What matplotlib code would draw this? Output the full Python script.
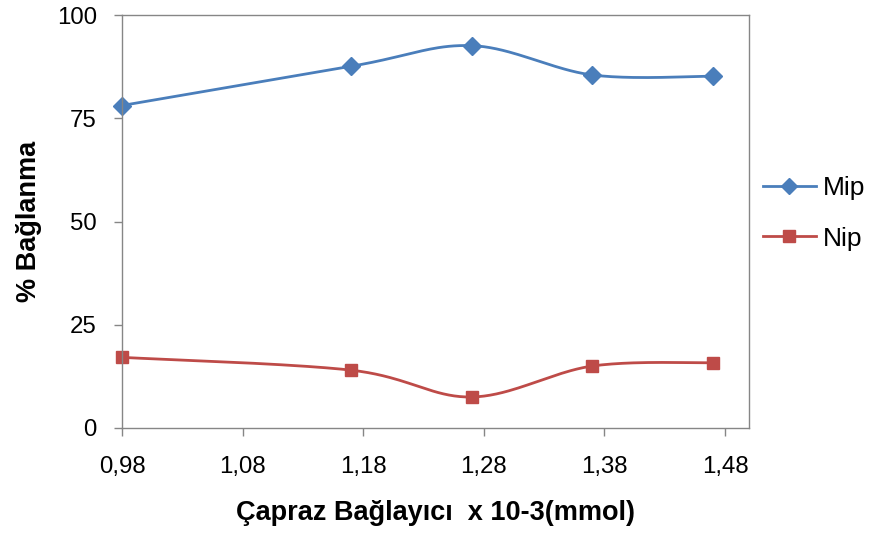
import numpy as np
import matplotlib.pyplot as plt

plt.rcParams['font.family'] = ['Liberation Sans', 'DejaVu Sans']

x = [0.98, 1.17, 1.27, 1.37, 1.47]
mip = [78.1, 87.6, 92.6, 85.5, 85.2]
nip = [17.1, 14.0, 7.5, 15.0, 15.8]
xticks = [0.98, 1.08, 1.18, 1.28, 1.38, 1.48]
yticks = [0, 25, 50, 75, 100]


def smooth(xs, ys, n=40):
    # Excel-style smoothed line: cubic Bezier segments with Catmull-Rom control points
    p = np.column_stack([xs, ys]).astype(float)
    p = np.vstack([p[0], p, p[-1]])
    out = []
    t = np.linspace(0, 1, n)[:, None]
    for i in range(1, len(p) - 2):
        p0, p1, p2, p3 = p[i - 1], p[i], p[i + 1], p[i + 2]
        c1 = p1 + (p2 - p0) / 6
        c2 = p2 - (p3 - p1) / 6
        seg = ((1 - t) ** 3) * p1 + 3 * ((1 - t) ** 2) * t * c1 + 3 * (1 - t) * t ** 2 * c2 + t ** 3 * p2
        out.append(seg)
    out = np.vstack(out)
    return out[:, 0], out[:, 1]


fig = plt.figure(figsize=(8.71, 5.39), dpi=100)
ax = fig.add_axes([0.140, 0.206, 0.72, 0.766])

blue = '#4A7EBB'
red = '#BE4B48'

sx, sy = smooth(x, mip)
ax.plot(sx, sy, color=blue, lw=2, clip_on=False)
ax.plot(x, mip, ls='none', marker='D', ms=9.5, color=blue, clip_on=False)
sx, sy = smooth(x, nip)
ax.plot(sx, sy, color=red, lw=2, clip_on=False)
ax.plot(x, nip, ls='none', marker='s', ms=9, color=red, clip_on=False)

# legend proxies
ax.plot([], [], color=blue, lw=2, marker='D', ms=8, label='Mip')
ax.plot([], [], color=red, lw=2, marker='s', ms=8, label='Nip')

ax.set_xlim(0.98, 1.50)
ax.set_ylim(0, 100)
ax.set_xticks(xticks)
ax.set_xticklabels([f'{v:.2f}'.replace('.', ',') for v in xticks])
ax.set_yticks(yticks)

for s in ax.spines.values():
    s.set_color('#868686')
    s.set_linewidth(1)
ax.tick_params(direction='out', length=6, width=1, color='#868686',
               labelsize=17.3, labelcolor='black')
ax.tick_params(axis='y', pad=12)
ax.tick_params(axis='x', pad=14)

ax.set_xlabel('Çapraz Bağlayıcı  x 10-3(mmol)', fontsize=19.5, fontweight='bold', labelpad=16)
ax.set_ylabel('% Bağlanma', fontsize=19.5, fontweight='bold', labelpad=11)

handles, labels = ax.get_legend_handles_labels()
fig.legend(handles[-2:], labels[-2:], loc='center left', bbox_to_anchor=(0.876, 0.604),
           frameon=False, fontsize=19, handlelength=2.0, labelspacing=1.0,
           handletextpad=0.27, borderaxespad=0, borderpad=0)

fig.savefig('out.png', dpi=100)
